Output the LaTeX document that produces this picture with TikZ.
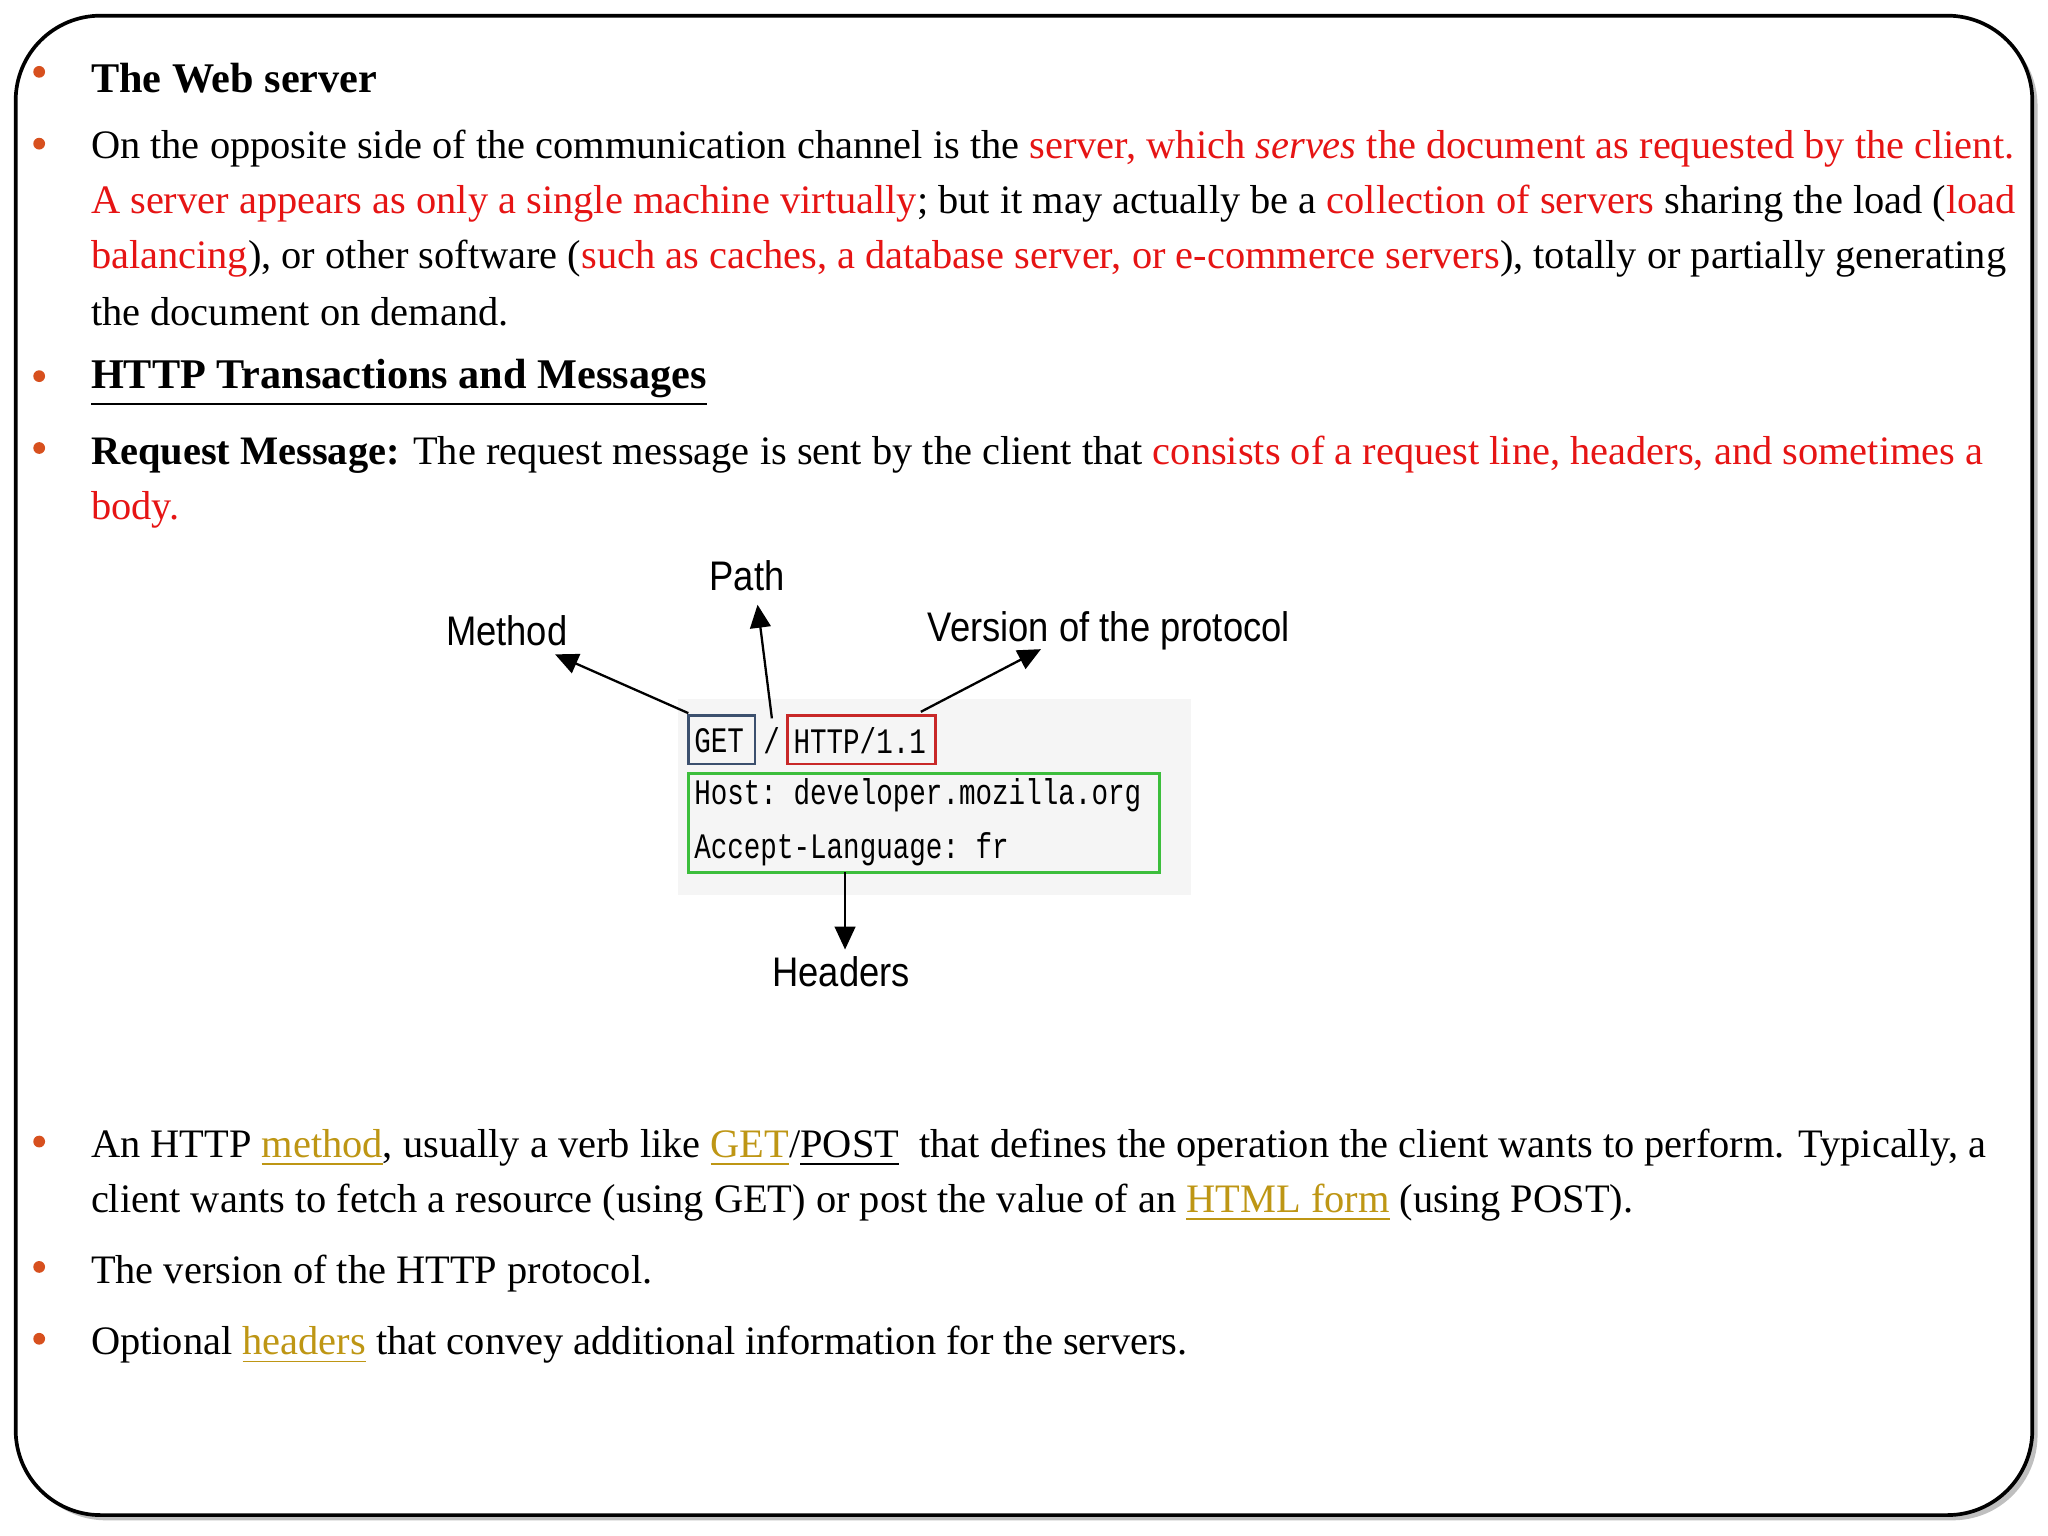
\documentclass[tikz,border=0pt]{standalone}
\usepackage{fontspec}
\setmainfont{Liberation Serif}
\setsansfont{Liberation Sans}
\setmonofont{Liberation Mono}
\usetikzlibrary{arrows.meta}
\definecolor{rd}{RGB}{230,20,20}
\definecolor{gd}{RGB}{190,150,20}
\definecolor{bul}{RGB}{215,80,30}
\newcommand{\R}[1]{\textcolor{rd}{#1}}
\newcommand{\G}[1]{\textcolor{gd}{\underline{#1}}}
\begin{document}
\begin{tikzpicture}[x=0.01cm,y=-0.01cm,
  txt/.style={anchor=west,inner sep=0pt,font=\fontsize{8.8}{10}\selectfont},
  lbl/.style={inner sep=0pt,xscale=0.88,font=\sffamily\fontsize{9}{10}\selectfont},
  mono/.style={anchor=west,inner sep=0pt,xscale=0.77,font=\ttfamily\fontsize{7.8}{10}\selectfont},
  arr/.style={-{Triangle[length=5pt,width=4.5pt]},line width=0.5pt}]
\useasboundingbox (0,0) rectangle (1568,1176);
\fill[black!25] (16,16) [rounded corners=0.65cm] rectangle (1560,1164);
\draw[fill=white,line width=0.8pt,rounded corners=0.65cm] (12,12) rectangle (1556,1160);
\foreach \y in {55,110,288,343,874,970,1025}{\fill[bul] (30,\y) circle (4.5);}
\node[txt] (l1) at (69,60) {\fontsize{9.2}{10}\selectfont\textbf{The Web server}};
\node[txt] (l2) at (69,114) {On the opposite side of the communication channel is the \R{server, which \textit{serves} the document as requested by the client.}};
\node[txt] (l3) at (69,156) {\R{A server appears as only a single machine virtually}; but it may actually be a \R{collection of servers} sharing the load (\R{load}};
\node[txt] (l4) at (69,198) {\R{balancing}), or other software (\R{such as caches, a database server, or e-commerce servers}), totally or partially generating};
\node[txt] (l5) at (69,239) {the document on demand.};
\node[txt] (l6) at (69,293) {\fontsize{9.2}{10}\selectfont\textbf{\underline{HTTP Transactions and Messages}}};
\node[txt] (l7) at (69,348) {\textbf{Request Message:} The request message is sent by the client that \R{consists of a request line, headers, and sometimes a}};
\node[txt] (l8) at (69,390) {\R{body.}};
\node[txt] (l9) at (69,879) {An HTTP \G{method}, usually a verb like \G{GET}/\underline{POST}\ \ that defines the operation the client wants to perform. Typically, a};
\node[txt] (l10) at (69,921) {client wants to fetch a resource (using GET) or post the value of an \G{HTML form} (using POST).};
\node[txt] (l11) at (69,975) {The version of the HTTP protocol.};
\node[txt] (l12) at (69,1030) {Optional \G{headers} that convey additional information for the servers.};
% diagram
\fill[black!4] (519,535) rectangle (912,685);
\draw[draw={rgb,255:red,60;green,80;blue,110},line width=0.6pt] (527,548) rectangle (578,585);
\draw[draw={rgb,255:red,200;green,40;blue,40},line width=0.6pt] (603,548) rectangle (716,585);
\draw[draw={rgb,255:red,60;green,190;blue,60},line width=0.6pt] (527,592) rectangle (888,668);
\node[mono] (get) at (531,567) {GET};
\node[mono] (sl) at (584,567) {/};
\node[mono] (ver) at (607,567) {HTTP/1.1};
\node[mono] (h1) at (531,609) {Host: developer.mozilla.org};
\node[mono] (h2) at (531,650) {Accept-Language: fr};
\node[lbl] (m) at (388,483) {Method};
\node[lbl] (p) at (572,441) {Path};
\node[lbl] (v) at (849,483) {Version of the protocol};
\node[lbl] (h) at (644,744) {Headers};
\coordinate (a1) at (527,546); \coordinate (a2) at (591,550);
\coordinate (a3) at (705,545); \coordinate (a4) at (647,668);
\draw[arr] (a1) -- (425,501);
\draw[arr] (a2) -- (580,463);
\draw[arr] (a3) -- (797,497);
\draw[arr] (a4) -- (647,727);
\end{tikzpicture}
\end{document}
